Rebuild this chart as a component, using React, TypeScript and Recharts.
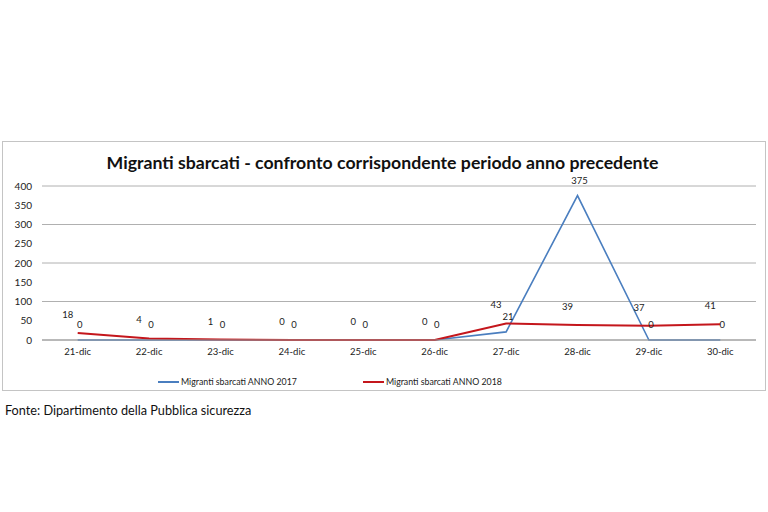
import React from 'react';
import { LineChart, Line, XAxis, YAxis, CartesianGrid, Legend, LabelList } from 'recharts';

const categories = ['21-dic', '22-dic', '23-dic', '24-dic', '25-dic', '26-dic', '27-dic', '28-dic', '29-dic', '30-dic'];
const migranti2017 = [0, 0, 0, 0, 0, 0, 21, 375, 0, 0];
const migranti2018 = [18, 4, 1, 0, 0, 0, 43, 39, 37, 41];
const yTicks = [0, 50, 100, 150, 200, 250, 300, 350, 400];
const seriesNames = ['Migranti sbarcati ANNO 2017', 'Migranti sbarcati ANNO 2018'];
const titleText = 'Migranti sbarcati - confronto corrispondente periodo anno precedente';
const sourceText = 'Fonte: Dipartimento della Pubblica sicurezza';

const data = categories.map((day, i) => ({ day, a2017: migranti2017[i], a2018: migranti2018[i] }));

const BLUE = '#4a7ebf';
const RED = '#c4161c';
const FONT = 'Lato, "Open Sans", sans-serif';

const makeLabel = (dx: number, dy: number) => (props: any) => {
  const { x, y, value } = props;
  if (x == null || y == null) return null;
  return (
    <text x={x + dx} y={y + dy} textAnchor="middle" fontSize={9.5} fontFamily={FONT} fill="#222">
      {value}
    </text>
  );
};

const LegendContent = (props: any) => {
  const { payload } = props;
  return (
    <div style={{ display: 'flex', flexDirection: 'row', paddingLeft: 158, fontFamily: FONT, fontSize: 8.8, color: '#222' }}>
      {(payload || []).map((p: any, i: number) => (
        <div key={i} style={{ display: 'flex', alignItems: 'center', marginRight: i === 0 ? 66 : 0 }}>
          <svg width={21} height={10} style={{ marginRight: 2 }}>
            <line x1={0} y1={5} x2={21} y2={5} stroke={p.color} strokeWidth={2} />
          </svg>
          <span>{p.value}</span>
        </div>
      ))}
    </div>
  );
};

export default function App() {
  return (
    <div style={{ position: 'absolute', left: 0, top: 0, width: 768, height: 512, background: '#fff', overflow: 'hidden' }}>
      <div style={{ position: 'absolute', left: 2, top: 141, width: 762, height: 248, border: '1px solid #c4c4c4' }} />
      <div
        style={{
          position: 'absolute', left: 0, top: 152, width: 765, textAlign: 'center',
          fontFamily: FONT, fontWeight: 700, fontSize: 17.7, lineHeight: '22px', color: '#111',
        }}
      >
        {titleText}
      </div>
      <div style={{ position: 'absolute', left: 0, top: 0 }}>
        <LineChart width={768} height={512} data={data} margin={{ top: 186, right: 12, bottom: 152, left: 0 }}>
          <CartesianGrid vertical={false} stroke="#b0b0b0" strokeWidth={1} />
          <XAxis
            dataKey="day"
            interval={0}
            padding={{ left: 35.7, right: 35.7 }}
            axisLine={{ stroke: '#9a9a9a' }}
            tickLine={false}
            tickSize={6}
            tickMargin={2}
            height={20}
            tick={{ fontSize: 9.5, fontFamily: FONT, fill: '#222' }}
          />
          <YAxis
            width={42}
            domain={[0, 400]}
            ticks={yTicks}
            axisLine={false}
            tickLine={false}
            tickSize={0}
            tickMargin={10}
            tick={{ fontSize: 10, fontFamily: FONT, fill: '#222' }}
          />
          <Legend
            layout="horizontal"
            verticalAlign="middle"
            align="center"
            wrapperStyle={{ top: 376, left: 0, width: 768 }}
            content={<LegendContent />}
          />
          <Line
            type="linear"
            dataKey="a2017"
            name={seriesNames[0]}
            stroke={BLUE}
            strokeWidth={1.6}
            dot={false}
            activeDot={false}
            isAnimationActive={false}
          >
            <LabelList dataKey="a2017" content={makeLabel(2, -12)} />
          </Line>
          <Line
            type="linear"
            dataKey="a2018"
            name={seriesNames[1]}
            stroke={RED}
            strokeWidth={2}
            dot={false}
            activeDot={false}
            isAnimationActive={false}
          >
            <LabelList dataKey="a2018" content={makeLabel(-10, -15)} />
          </Line>
        </LineChart>
      </div>
      <div
        style={{
          position: 'absolute', left: 5, top: 401, fontFamily: FONT, fontSize: 12.7,
          lineHeight: '18px', color: '#111', whiteSpace: 'nowrap',
        }}
      >
        {sourceText}
      </div>
    </div>
  );
}
